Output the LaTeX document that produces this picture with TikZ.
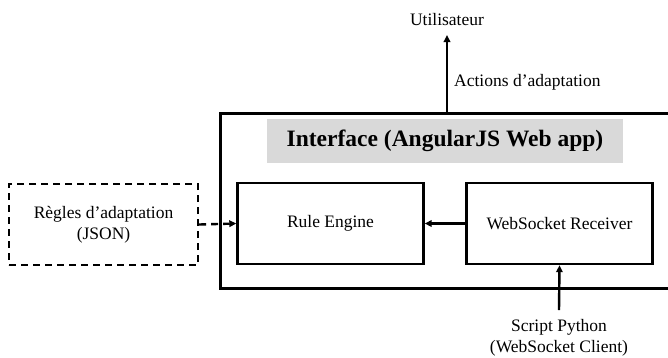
\documentclass[tikz,border=0pt]{standalone}
\usepackage{fontspec}
\setmainfont{Liberation Serif}
\usetikzlibrary{arrows.meta}
\begin{document}
\begin{tikzpicture}[x=1pt,y=-1pt,
  box/.style={draw,line width=2.4pt,minimum width=186pt,minimum height=81pt,inner sep=0pt,font=\fontsize{17.5}{20}\selectfont},
  dbox/.style={draw,line width=2.4pt,dash pattern=on 7pt off 5pt,minimum width=189pt,minimum height=81pt,inner sep=0pt,align=center,font=\fontsize{17.5}{21}\selectfont},
  arr/.style={line width=2.4pt,-{Triangle[length=7pt,width=6.5pt]}},
  lbl/.style={font=\fontsize{17.5}{21}\selectfont,inner sep=0pt}]
\useasboundingbox (0,0) rectangle (668,357);
\node[draw,line width=2.6pt,minimum width=452pt,minimum height=175pt,inner sep=0pt,anchor=north west] (outer) at (219,112) {};
\node[fill=black!15,minimum width=356pt,minimum height=44pt,inner sep=0pt,font=\fontsize{23.5}{26}\selectfont\bfseries] (title) at (445,141) {Interface (AngularJS Web app)};
\node[box] (re) at (330.5,223.5) {Rule Engine};
\node[box] (ws) at (559.5,223.5) {WebSocket Receiver};
\node[dbox] (rules) at (103.5,224.5) {Règles d’adaptation\\(JSON)};
\node[lbl] (user) at (447,20) {Utilisateur};
\node[lbl,anchor=west] (act) at (454,82) {Actions d’adaptation};
\node[lbl,align=center] (py) at (559,338) {Script Python\\(WebSocket Client)};
\coordinate (topout) at (447,112);
\coordinate (botout) at (559,310);
\draw[arr] (topout) -- (user.south |- 0,35);
\draw[arr] (ws.west) -- (re.east);
\draw[arr,dash pattern=on 7pt off 5pt] (rules.east) -- (re.west);
\draw[arr] (botout) -- (ws.south);
\end{tikzpicture}
\end{document}
